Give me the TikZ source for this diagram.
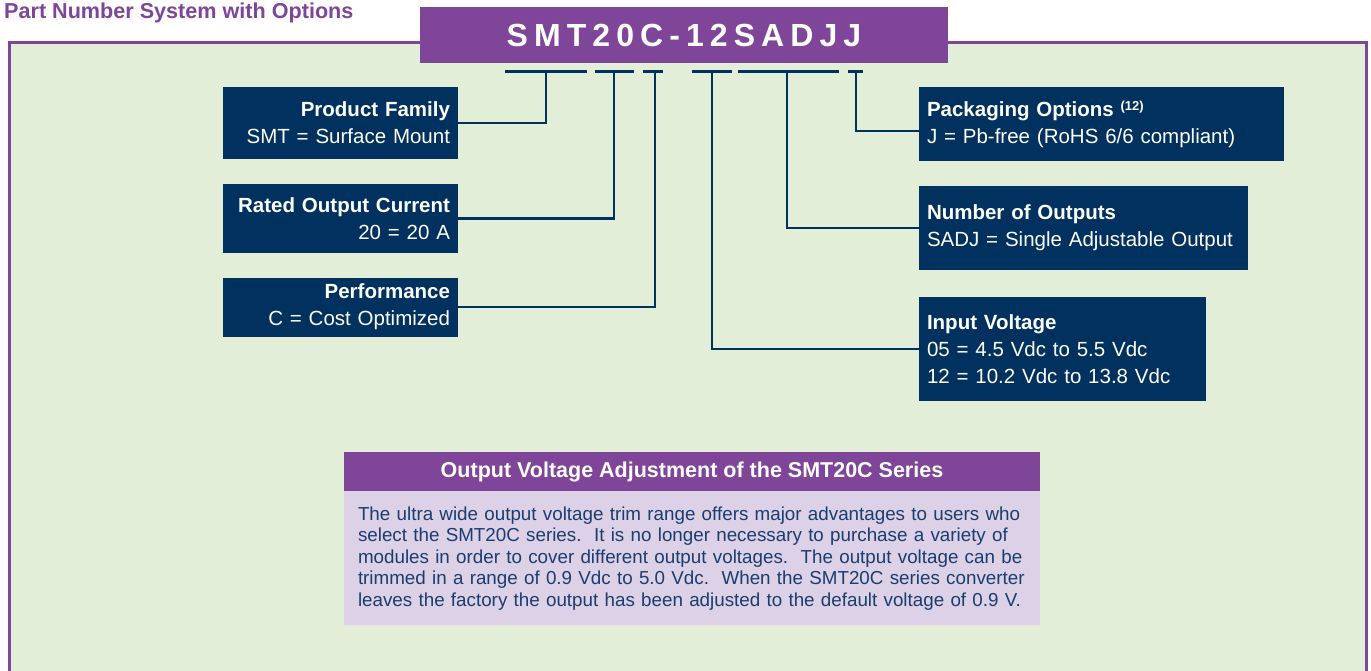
\documentclass[tikz,border=0pt]{standalone}
\usepackage{fontspec}
\setmainfont{Liberation Sans}
\usetikzlibrary{calc}
\definecolor{navy}{HTML}{00315F}
\definecolor{purp}{HTML}{7F4599}
\definecolor{bggreen}{HTML}{E2EED7}
\definecolor{lav}{HTML}{DCD1E7}
\definecolor{bodytext}{HTML}{1B3D6E}
\begin{document}
\begin{tikzpicture}[x=1pt,y=-1pt,
  lbox/.style={fill=navy, text=white, minimum width=235pt, text width=219pt, align=right,
    inner xsep=8pt, inner ysep=0pt, font=\fontsize{20.5}{27}\selectfont},
  rbox/.style={fill=navy, text=white, align=left, inner xsep=8pt, inner ysep=0pt,
    font=\fontsize{20.5}{27}\selectfont},
  conn/.style={draw=navy, line width=2.6pt},
  uline/.style={draw=navy, line width=3pt}
]
\useasboundingbox (0,0) rectangle (1371,671);
% outer frame
\filldraw[draw=purp, line width=3pt, fill=bggreen] (9,673) -- (9,43) -- (1366,43) -- (1366,673);
% title
\node[anchor=west, text=purp, font=\fontsize{21.6}{21.6}\selectfont\bfseries, inner sep=0pt] (ttl) at (4,13) {Part Number System with Options};
% part number
\node[fill=purp, minimum width=528pt, minimum height=56pt, inner sep=0pt, text=white] (pn) at (684,35)
  {\fontsize{32}{32}\selectfont\bfseries\addfontfeatures{LetterSpace=19}SMT20C-12SADJJ};
% underline segments
\coordinate (s1a) at (505,72); \coordinate (s1b) at (587,72); \coordinate (u1) at (546,72);
\coordinate (s2a) at (595,72); \coordinate (s2b) at (634,72); \coordinate (u2) at (614,72);
\coordinate (s3a) at (643,72); \coordinate (s3b) at (663,72); \coordinate (u3) at (655,72);
\coordinate (s4a) at (692,72); \coordinate (s4b) at (732,72); \coordinate (u4) at (712,72);
\coordinate (s5a) at (738,72); \coordinate (s5b) at (839,72); \coordinate (u5) at (787,72);
\coordinate (s6a) at (848,72); \coordinate (s6b) at (863,72); \coordinate (u6) at (856,72);
\foreach \i in {1,...,6} { \draw[uline] (s\i a) -- (s\i b); }
% left boxes
\node[lbox, minimum height=72pt] (pf) at (340.5,123) {\textbf{Product Family}\\SMT = Surface Mount};
\node[lbox, minimum height=69pt] (rc) at (340.5,218.5) {\textbf{Rated Output Current}\\20 = 20 A};
\node[lbox, minimum height=59pt] (pe) at (340.5,307) {\textbf{Performance}\\C = Cost Optimized};
% right boxes
\node[rbox, minimum height=74pt, minimum width=365pt, text width=349pt] (pk) at (1101.5,124)
  {\textbf{Packaging Options} {\fontsize{13}{13}\selectfont\bfseries\raisebox{6pt}{(12)}}\\J = Pb-free (RoHS 6/6 compliant)};
\node[rbox, minimum height=84pt, minimum width=329pt, text width=313pt] (no) at (1083.5,228)
  {\textbf{Number of Outputs}\\SADJ = Single Adjustable Output};
\node[rbox, minimum height=104pt, minimum width=287pt, text width=271pt] (iv) at (1062.5,349)
  {\textbf{Input Voltage}\\05 = 4.5 Vdc to 5.5 Vdc\\12 = 10.2 Vdc to 13.8 Vdc};
% connectors
\draw[conn] (pf.east) -| (u1);
\draw[conn] (rc.east) -| (u2);
\draw[conn] (pe.east) -| (u3);
\draw[conn] (u4) |- (iv.west);
\draw[conn] (u5) |- (no.west);
\draw[conn] (u6) |- ([yshift=-7pt]pk.west);
% bottom note
\node[fill=purp, minimum width=696pt, minimum height=39pt, inner sep=0pt, text=white,
  font=\fontsize{21.5}{21.5}\selectfont\bfseries] (nh) at (692,471.5) {Output Voltage Adjustment of the SMT20C Series};
\node[fill=lav, minimum width=696pt, minimum height=134pt, text width=668pt, inner xsep=14pt, inner ysep=0pt,
  align=left, text=bodytext, font=\fontsize{18.8}{21.4}\selectfont, anchor=north] (nb) at (nh.south)
  {The ultra wide output voltage trim range offers major advantages to users who\\
   select the SMT20C series.\ \ It is no longer necessary to purchase a variety of\\
   modules in order to cover different output voltages.\ \ The output voltage can be\\
   trimmed in a range of 0.9 Vdc to 5.0 Vdc.\ \ When the SMT20C series converter\\
   leaves the factory the output has been adjusted to the default voltage of 0.9 V.};
\end{tikzpicture}
\end{document}
